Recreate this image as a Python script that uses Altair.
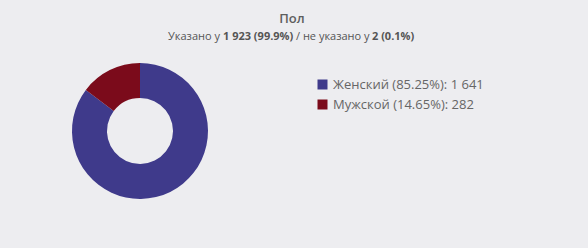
import altair as alt
import pandas as pd

categories = ["Женский", "Мужской"]
counts = [1641, 282]
count_labels = ["1 641", "282"]
percents = ["85.25%", "14.65%"]
colors = ["#3f3a8b", "#7b0b1b"]

title_text = "Пол"
subtitle_pieces = ["Указано у", "1 923 (99.9%)", "/ не указано у", "2 (0.1%)"]
subtitle_bold = [False, True, False, True]
subtitle_x = [168, 223, 296, 372]

labels = [f"{c} ({p}): {n}" for c, p, n in zip(categories, percents, count_labels)]
df = pd.DataFrame({"label": labels, "count": counts, "order": list(range(len(counts)))})

FONT = "Open Sans"
TXT = "#555555"

arc = alt.Chart(df).mark_arc(innerRadius=33, outerRadius=68).encode(
    theta=alt.Theta("count:Q", stack=True),
    order=alt.Order("order:Q"),
    color=alt.Color(
        "label:N",
        scale=alt.Scale(domain=labels, range=colors),
        legend=alt.Legend(
            title=None,
            orient="none",
            legendX=316,
            legendY=78,
            symbolType="square",
            symbolSize=100,
            symbolStrokeWidth=0,
            symbolOpacity=1,
            labelFont=FONT,
            labelFontSize=13,
            labelColor="#666666",
            labelOffset=4,
            rowPadding=6,
            padding=0,
        ),
    ),
    x=alt.value(140),
    y=alt.value(131),
)

one = pd.DataFrame({"a": [0]})
layers = [arc]
layers.append(
    alt.Chart(one).mark_text(align="center", baseline="alphabetic", font=FONT, fontSize=13,
                             fontWeight=600, color="#5e5e5e").encode(
        x=alt.value(292), y=alt.value(23), text=alt.value(title_text)
    )
)
for piece, bold, xp in zip(subtitle_pieces, subtitle_bold, subtitle_x):
    layers.append(
        alt.Chart(one).mark_text(
            align="left", baseline="alphabetic", font=FONT, fontSize=11,
            fontWeight="bold" if bold else "normal", color=TXT,
        ).encode(x=alt.value(xp), y=alt.value(40), text=alt.value(piece))
    )

chart = alt.layer(*layers).properties(
    width=588, height=248, padding=0, autosize=alt.AutoSizeParams(type="none")
).configure(background="#ededf0").configure_view(stroke=None)

chart.save("out.html", embed_options={"renderer": "svg", "actions": False})
